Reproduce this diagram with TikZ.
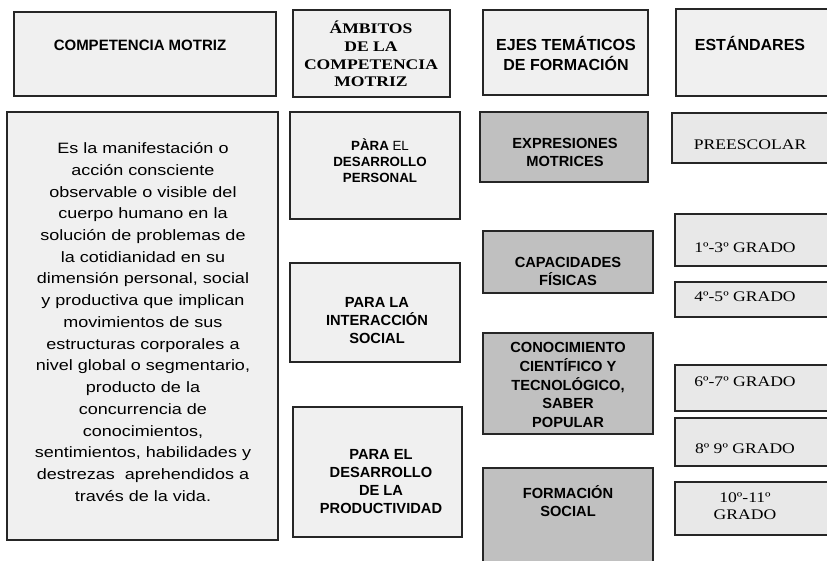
\documentclass[tikz,border=0pt]{standalone}
\usepackage{fontspec}
\setmainfont{Liberation Sans}
\newfontfamily\widesans[FakeStretch=1.2]{Liberation Sans}
\newfontfamily\wideserif[FakeStretch=1.2]{Liberation Serif}

\definecolor{boxlight}{HTML}{F0F0F0}
\definecolor{boxstd}{HTML}{E8E8E8}
\definecolor{boxeje}{HTML}{C0C0C0}

\tikzset{
  box/.style={draw=black!85, line width=1pt},
  head/.style={font=\fontsize{12}{15}\selectfont\bfseries, align=center},
  sub/.style={font=\fontsize{11}{13.5}\selectfont\bfseries, align=center, inner sep=0pt},
  std/.style={font=\wideserif\fontsize{11}{13}\selectfont, align=center, inner sep=0pt}
}

\begin{document}
\begin{tikzpicture}[x=0.75pt, y=-0.75pt]
\useasboundingbox (0,0) rectangle (827,560);

% encabezados
\path[box, fill=boxlight] (14,12) rectangle (276,96);
\path[box, fill=boxlight] (293,10) rectangle (450,97);
\path[box, fill=boxlight] (483,10) rectangle (648,95);
\path[box, fill=boxlight] (676,9) rectangle (840,96);
\node[head, font=\fontsize{11.25}{14}\selectfont\bfseries] (competencia) at (140,45) {COMPETENCIA MOTRIZ};
\node[align=center, inner sep=0pt, font=\wideserif\fontsize{11}{13.3}\selectfont\bfseries] (ambitos) at (371,54) {ÁMBITOS\\DE LA\\COMPETENCIA\\MOTRIZ};
\node[head] (ejes) at (566,53) {EJES TEMÁTICOS\\DE FORMACIÓN};
\node[head] (estandares) at (750,43) {ESTÁNDARES};

% definicion
\path[box, fill=boxlight] (7,112) rectangle (278,540);
\node[align=center, inner sep=0pt, font=\widesans\fontsize{11.25}{16.3}\selectfont] (definicion) at (143,322)
  {Es la manifestación o\\acción consciente\\observable o visible del\\cuerpo humano en la\\solución de problemas de\\la cotidianidad en su\\dimensión personal, social\\y productiva que implican\\movimientos de sus\\estructuras corporales a\\nivel global o segmentario,\\producto de la\\concurrencia de\\conocimientos,\\sentimientos, habilidades y\\destrezas\ \ aprehendidos a\\través de la vida.};

% ambitos
\path[box, fill=boxlight] (290,112) rectangle (460,219);
\path[box, fill=boxlight] (290,263) rectangle (460,362);
\path[box, fill=boxlight] (293,407) rectangle (462,537);
\node[sub, font=\fontsize{10}{12}\selectfont\bfseries] (personal) at (380,161) {PÀRA {\mdseries EL}\\DESARROLLO\\PERSONAL};
\node[sub] (social) at (377,321) {PARA LA\\INTERACCIÓN\\SOCIAL};
\node[sub] (productividad) at (381,482) {PARA EL\\DESARROLLO\\DE LA\\PRODUCTIVIDAD};

% ejes tematicos
\path[box, fill=boxeje] (480,112) rectangle (648,182);
\path[box, fill=boxeje] (483,231) rectangle (653,293);
\path[box, fill=boxeje] (483,333) rectangle (653,434);
\path[box, fill=boxeje] (483,468) rectangle (653,575);
\node[sub] (expresiones) at (565,152) {EXPRESIONES\\MOTRICES};
\node[sub] (capacidades) at (568,271) {CAPACIDADES\\FÍSICAS};
\node[sub, font=\fontsize{11}{14}\selectfont\bfseries] (conocimiento) at (568,385) {CONOCIMIENTO\\CIENTÍFICO Y\\TECNOLÓGICO,\\SABER\\POPULAR};
\node[sub] (formacion) at (568,501) {FORMACIÓN\\SOCIAL};

% estandares
\path[box, fill=boxstd] (672,113) rectangle (840,163);
\path[box, fill=boxstd] (675,214) rectangle (840,266);
\path[box, fill=boxstd] (675,282) rectangle (840,317);
\path[box, fill=boxstd] (675,365) rectangle (840,411);
\path[box, fill=boxstd] (675,418) rectangle (840,466);
\path[box, fill=boxstd] (675,482) rectangle (840,535);
\node[std] (preescolar) at (750,145) {PREESCOLAR};
\node[std] (grado13) at (745,248) {1º-3º GRADO};
\node[std] (grado45) at (745,297) {4º-5º GRADO};
\node[std] (grado67) at (745,382) {6º-7º GRADO};
\node[std] (grado89) at (745,449) {8º 9º GRADO};
\node[std] (grado1011) at (745,506) {10º-11º\\GRADO};
\end{tikzpicture}
\end{document}
